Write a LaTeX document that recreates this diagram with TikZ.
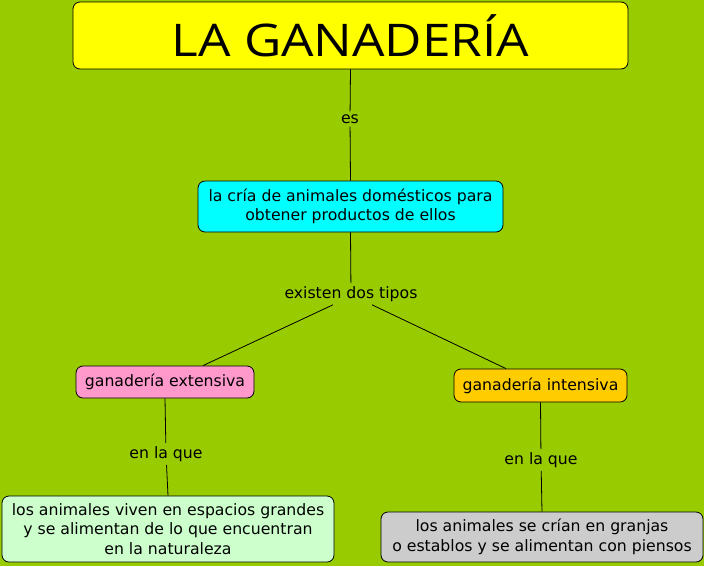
\documentclass[tikz,border=0pt]{standalone}
\usepackage{fontspec}
\setmainfont{DejaVu Sans}
\newfontfamily\titlefont{Open Sans}
\definecolor{bg}{HTML}{99CC00}
\definecolor{ttl}{HTML}{FFFF00}
\definecolor{cya}{HTML}{00FFFF}
\definecolor{pnk}{HTML}{FF99CC}
\definecolor{org}{HTML}{FFCC00}
\definecolor{lgr}{HTML}{CCFFCC}
\definecolor{gry}{HTML}{CCCCCC}
\begin{document}
\begin{tikzpicture}[x=1pt,y=-1pt,
  box/.style={draw=black,line width=0.8pt,rounded corners=7pt,inner sep=0pt,align=center,font=\fontsize{15.7}{19.5}\selectfont},
  lbl/.style={inner sep=3pt,font=\fontsize{15.7}{18}\selectfont},
  conn/.style={draw=black,line width=0.8pt}]
\fill[bg] (0,0) rectangle (704,566);
\useasboundingbox (0,0) rectangle (704,566);
\node[box,fill=ttl,minimum width=555pt,minimum height=67pt,font=\titlefont\fontsize{45}{50}\selectfont] (t) at (350.5,35.5) {\scalebox{1.14}[1]{LA GANADERÍA}};
\node[box,fill=cya,minimum width=305pt,minimum height=51pt] (c) at (350.5,206.5) {la cría de animales domésticos para\\obtener productos de ellos};
\node[lbl] (es) at (350,119) {es};
\node[lbl] (ex) at (351,294) {existen dos tipos};
\node[box,fill=pnk,minimum width=178pt,minimum height=32pt] (ge) at (165,382) {ganadería extensiva};
\node[box,fill=org,minimum width=173pt,minimum height=33pt] (gi) at (540.5,385.5) {ganadería intensiva};
\node[lbl] (l1) at (166,454) {en la que};
\node[lbl] (l2) at (541,460) {en la que};
\node[box,fill=lgr,minimum width=332pt,minimum height=66pt] (b1) at (168,529) {los animales viven en espacios grandes\\y se alimentan de lo que encuentran\\en la naturaleza};
\node[box,fill=gry,minimum width=322pt,minimum height=50pt] (b2) at (542,537) {los animales se crían en granjas\\o establos y se alimentan con piensos};
\draw[conn] (t.south) -- (es);
\draw[conn] (es) -- (c.north);
\draw[conn] (c.south) -- (ex);
\draw[conn] ([xshift=-18pt]ex.south) -- ([xshift=38pt]ge.north);
\draw[conn] ([xshift=21pt]ex.south) -- ([xshift=-34.5pt]gi.north);
\draw[conn] (ge.south) -- (l1);
\draw[conn] (l1) -- (b1.north);
\draw[conn] (gi.south) -- (l2);
\draw[conn] (l2) -- (b2.north);
\end{tikzpicture}
\end{document}
